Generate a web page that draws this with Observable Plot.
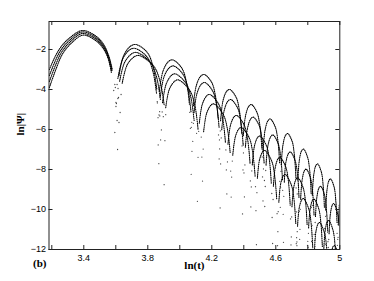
<!DOCTYPE html>
<html><head><meta charset="utf-8">
<script src="https://cdn.jsdelivr.net/npm/d3@7"></script>
<script src="https://cdn.jsdelivr.net/npm/@observablehq/plot@0.6"></script>
<style>
html,body{margin:0;padding:0;background:#fff;}
#chart{width:374px;height:281px;}
</style></head><body><div id="chart"></div>
<script>
// ln(t) tick positions and labels
const xTicks = [3.2, 3.4, 3.6, 3.8, 4.0, 4.2, 4.4, 4.6, 4.8, 5.0];
const xLabelTicks = [3.4, 3.8, 4.2, 4.6, 5];
const yTicks = [-2, -4, -6, -8, -10, -12];
const xLabel = "ln(t)";
const yLabel = "ln|Ψ|";
const panelTag = "(b)";

// arches, [ln t, ln|Ψ|], one list per lobe, four series A (top) .. D (bottom)
const archesA = [
  [[3.185,-3.0],[3.215,-2.45],[3.25,-1.95],[3.30,-1.5],[3.39,-1.05],[3.47,-1.3],[3.52,-1.7],[3.555,-2.3],[3.578,-3.0]],
  [[3.620,-3.31],[3.649,-2.31],[3.691,-1.84],[3.726,-1.75],[3.796,-2.14],[3.832,-2.83],[3.856,-3.97]],
  [[3.872,-4.08],[3.895,-3.08],[3.928,-2.61],[3.955,-2.52],[4.011,-2.91],[4.041,-3.60],[4.060,-4.74]],
  [[4.085,-4.81],[4.103,-3.81],[4.130,-3.34],[4.153,-3.25],[4.199,-3.64],[4.223,-4.33],[4.240,-5.47]],
  [[4.255,-5.56],[4.270,-4.56],[4.293,-4.09],[4.312,-4.0],[4.352,-4.39],[4.373,-5.08],[4.387,-6.22]],
  [[4.397,-6.31],[4.411,-5.31],[4.431,-4.84],[4.447,-4.75],[4.482,-5.14],[4.501,-5.83],[4.513,-6.97]],
  [[4.521,-7.03],[4.533,-6.03],[4.551,-5.56],[4.565,-5.47],[4.596,-5.86],[4.613,-6.55],[4.624,-7.69]],
  [[4.634,-7.76],[4.645,-6.76],[4.661,-6.29],[4.674,-6.2],[4.702,-6.59],[4.716,-7.28],[4.726,-8.42]],
  [[4.738,-8.54],[4.747,-7.54],[4.761,-7.07],[4.773,-6.98],[4.798,-7.37],[4.812,-8.06],[4.821,-9.20]],
  [[4.828,-9.28],[4.837,-8.28],[4.850,-7.81],[4.861,-7.72],[4.884,-8.11],[4.896,-8.80],[4.904,-9.94]],
  [[4.912,-10.03],[4.920,-9.03],[4.932,-8.56],[4.942,-8.47],[4.964,-8.86],[4.975,-9.55],[4.983,-10.69]],
  [[4.990,-10.76],[4.997,-9.76]]
];
const archesB = [
  [[3.185,-3.3],[3.22,-2.6],[3.255,-2.05],[3.305,-1.58],[3.39,-1.12],[3.47,-1.37],[3.52,-1.78],[3.555,-2.35],[3.576,-3.05]],
  [[3.613,-3.45],[3.643,-2.47],[3.686,-2.02],[3.718,-1.94],[3.794,-2.36],[3.831,-3.07],[3.855,-4.23]],
  [[3.879,-4.33],[3.902,-3.35],[3.936,-2.90],[3.961,-2.82],[4.020,-3.24],[4.050,-3.95],[4.070,-5.11]],
  [[4.089,-5.16],[4.108,-4.18],[4.135,-3.73],[4.156,-3.65],[4.205,-4.07],[4.230,-4.78],[4.246,-5.94]],
  [[4.262,-6.01],[4.278,-5.03],[4.301,-4.58],[4.319,-4.5],[4.361,-4.92],[4.382,-5.63],[4.396,-6.79]],
  [[4.410,-6.89],[4.424,-5.91],[4.444,-5.46],[4.459,-5.38],[4.496,-5.80],[4.514,-6.51],[4.527,-7.67]],
  [[4.539,-7.78],[4.551,-6.80],[4.569,-6.35],[4.582,-6.27],[4.614,-6.69],[4.631,-7.40],[4.642,-8.56]],
  [[4.653,-8.63],[4.663,-7.65],[4.679,-7.20],[4.691,-7.12],[4.720,-7.54],[4.736,-8.25],[4.745,-9.41]],
  [[4.755,-9.49],[4.765,-8.51],[4.779,-8.06],[4.790,-7.98],[4.816,-8.40],[4.830,-9.11],[4.839,-10.27]],
  [[4.848,-10.35],[4.857,-9.37],[4.870,-8.92],[4.880,-8.84],[4.904,-9.26],[4.916,-9.97],[4.925,-11.13]],
  [[4.933,-11.21],[4.941,-10.23],[4.953,-9.78],[4.962,-9.7],[4.984,-10.12],[4.996,-10.83]]
];
const archesC = [
  [[3.185,-3.6],[3.225,-2.75],[3.26,-2.15],[3.31,-1.66],[3.39,-1.2],[3.47,-1.45],[3.52,-1.85],[3.553,-2.4],[3.574,-3.1]],
  [[3.624,-3.59],[3.656,-2.63],[3.702,-2.20],[3.731,-2.15],[3.814,-2.62],[3.854,-3.35],[3.879,-4.53]],
  [[3.892,-4.66],[3.916,-3.70],[3.951,-3.27],[3.973,-3.22],[4.039,-3.69],[4.070,-4.42],[4.090,-5.60]],
  [[4.122,-5.69],[4.141,-4.73],[4.170,-4.30],[4.188,-4.25],[4.242,-4.72],[4.268,-5.45],[4.285,-6.63]],
  [[4.301,-6.74],[4.317,-5.78],[4.341,-5.35],[4.357,-5.3],[4.402,-5.77],[4.424,-6.50],[4.439,-7.68]],
  [[4.453,-7.77],[4.467,-6.81],[4.488,-6.38],[4.501,-6.33],[4.541,-6.80],[4.560,-7.53],[4.572,-8.71]],
  [[4.585,-8.84],[4.597,-7.88],[4.615,-7.45],[4.627,-7.4],[4.662,-7.87],[4.679,-8.60],[4.690,-9.78]],
  [[4.701,-9.86],[4.712,-8.90],[4.728,-8.47],[4.739,-8.42],[4.770,-8.89],[4.786,-9.62],[4.796,-10.80]],
  [[4.805,-10.92],[4.815,-9.96],[4.830,-9.53],[4.839,-9.48],[4.868,-9.95],[4.882,-10.68],[4.891,-11.86]],
  [[4.900,-11.99],[4.909,-11.03],[4.922,-10.60],[4.931,-10.55],[4.957,-11.02],[4.970,-11.75],[4.978,-12.93]]
];
const archesD = [
  [[3.185,-3.9],[3.23,-2.9],[3.265,-2.25],[3.315,-1.74],[3.395,-1.28],[3.47,-1.53],[3.52,-1.93],[3.552,-2.45],[3.572,-3.15]],
  [[3.640,-3.69],[3.673,-2.74],[3.720,-2.34],[3.746,-2.3],[3.836,-2.82],[3.876,-3.57],[3.902,-4.76]],
  [[3.912,-4.91],[3.936,-3.96],[3.972,-3.56],[3.992,-3.52],[4.062,-4.04],[4.094,-4.79],[4.114,-5.98]],
  [[4.149,-6.11],[4.169,-5.16],[4.198,-4.76],[4.214,-4.72],[4.271,-5.24],[4.298,-5.99],[4.315,-7.18]],
  [[4.331,-7.29],[4.348,-6.34],[4.372,-5.94],[4.386,-5.9],[4.434,-6.42],[4.456,-7.17],[4.471,-8.36]],
  [[4.485,-8.44],[4.499,-7.49],[4.520,-7.09],[4.532,-7.05],[4.574,-7.57],[4.593,-8.32],[4.606,-9.51]],
  [[4.619,-9.64],[4.631,-8.69],[4.649,-8.29],[4.660,-8.25],[4.697,-8.77],[4.714,-9.52],[4.725,-10.71]],
  [[4.736,-10.84],[4.747,-9.89],[4.764,-9.49],[4.773,-9.45],[4.806,-9.97],[4.821,-10.72],[4.831,-11.91]],
  [[4.842,-12.04],[4.851,-11.09],[4.866,-10.69],[4.874,-10.65],[4.904,-11.17],[4.918,-11.92],[4.928,-13.11]],
  [[4.937,-13.19],[4.946,-12.24],[4.959,-11.84],[4.967,-11.8],[4.994,-12.32]]
];

// scattered samples in the dips between lobes, [ln t, ln|Ψ|]
const dipsA = [[3.594,-3.75],[3.601,-4.85],[3.608,-5.55],[3.614,-3.95],
  [3.860,-4.67],[3.865,-6.77],[3.870,-5.27],[3.875,-4.37],
  [4.062,-5.14],[4.066,-5.94],[4.071,-8.24],[4.075,-5.64],
  [4.242,-6.27],[4.246,-7.47],[4.249,-6.97],[4.253,-6.07],
  [4.389,-6.82],[4.392,-10.22],[4.395,-8.02],[4.398,-6.72],
  [4.515,-7.37],[4.517,-8.37],[4.520,-9.57],[4.523,-7.97],
  [4.625,-8.59],[4.628,-9.89],[4.630,-8.89],[4.632,-8.09],
  [4.727,-8.92],[4.730,-10.12],[4.732,-11.62],[4.734,-9.22],
  [4.822,-9.90],[4.824,-11.60],[4.826,-10.80],[4.828,-9.80],
  [4.905,-10.94],[4.907,-11.24],[4.909,-11.74],[4.911,-10.34],
  [4.983,-11.19],[4.985,-11.79],[4.987,-11.49],[4.989,-11.39]];
const dipsB = [[3.587,-4.05],[3.594,-6.15],[3.601,-4.65],[3.608,-3.75],
  [3.859,-4.61],[3.864,-5.41],[3.869,-7.71],[3.874,-5.11],
  [4.072,-5.89],[4.076,-7.09],[4.081,-6.59],[4.085,-5.69],
  [4.248,-6.52],[4.252,-9.92],[4.255,-7.72],[4.259,-6.42],
  [4.398,-7.17],[4.401,-8.17],[4.404,-9.37],[4.407,-7.77],
  [4.529,-8.55],[4.531,-9.85],[4.534,-8.85],[4.537,-8.05],
  [4.643,-9.04],[4.646,-10.24],[4.648,-11.64],[4.650,-9.34],
  [4.747,-10.09],[4.749,-11.49],[4.751,-10.99],[4.753,-9.99],
  [4.840,-11.25],[4.842,-11.55],[4.844,-11.85],[4.846,-10.65],
  [4.926,-11.61],[4.928,-11.90],[4.931,-11.50]];
const dipsC = [[3.597,-3.90],[3.604,-4.70],[3.611,-7.00],[3.617,-4.40],
  [3.875,-5.32],[3.880,-6.52],[3.885,-6.02],[3.890,-5.12],
  [4.105,-6.19],[4.110,-9.59],[4.114,-7.39],[4.118,-6.09],
  [4.288,-7.02],[4.291,-8.02],[4.294,-9.22],[4.298,-7.62],
  [4.441,-8.57],[4.444,-9.87],[4.447,-8.87],[4.450,-8.07],
  [4.575,-9.20],[4.577,-10.40],[4.580,-11.70],[4.583,-9.50],
  [4.692,-10.47],[4.695,-11.77],[4.697,-11.37],[4.699,-10.37],
  [4.798,-11.79],[4.800,-11.59],[4.802,-11.89],[4.804,-11.19]];
const dipsD = [[3.613,-4.45],[3.620,-5.65],[3.627,-5.15],[3.633,-4.25],
  [3.897,-5.36],[3.902,-8.76],[3.907,-6.56],[3.912,-5.26],
  [4.134,-6.38],[4.138,-7.38],[4.142,-8.58],[4.146,-6.98],
  [4.318,-8.08],[4.321,-9.38],[4.324,-8.38],[4.328,-7.58],
  [4.473,-8.86],[4.476,-10.06],[4.479,-11.76],[4.482,-9.16],
  [4.608,-10.21],[4.611,-11.81],[4.613,-11.11],[4.615,-10.11],
  [4.728,-11.71],[4.730,-11.41],[4.732,-11.81],[4.734,-11.11]];

// tables for the library
const series = {A: archesA, B: archesB, C: archesC, D: archesD};
const archRows = [];
for (const [name, arches] of Object.entries(series)) {
  arches.forEach((arch, i) => arch.forEach(([lnT, lnPsi]) => archRows.push({series: name, arch: name + i, lnT, lnPsi})));
}
const dipRows = [...dipsA, ...dipsB, ...dipsC, ...dipsD].map(([lnT, lnPsi]) => ({lnT, lnPsi}));

const W = 374, H = 281, mL = 48.5, mR = 34.7, mT = 21, mB = 32;
const fw = W - mL - mR, fh = H - mT - mB, tick = 4;
const serif = "'Liberation Serif', 'Times New Roman', serif";

const chart = Plot.plot({
  width: W, height: H,
  marginLeft: mL, marginRight: mR, marginTop: mT, marginBottom: mB,
  x: {domain: [3.1825, 5]},
  y: {domain: [-12, -0.6]},
  style: {fontFamily: "'Liberation Sans', Arial, sans-serif", fontSize: "9px", color: "#000", background: "#fff"},
  marks: [
    Plot.line(archRows, {x: "lnT", y: "lnPsi", z: "arch", curve: "catmull-rom", stroke: "#000", strokeWidth: 1.1, strokeDasharray: "0.7,1.2", clip: true}),
    Plot.dot(dipRows, {x: "lnT", y: "lnPsi", r: 0.65, fill: "#444", stroke: "none", clip: true}),
    Plot.frame({stroke: "#222", strokeWidth: 1}),
    Plot.ruleX(xTicks, {insetTop: fh - tick, stroke: "#222"}),
    Plot.ruleX(xTicks, {insetBottom: fh - tick, stroke: "#222"}),
    Plot.ruleY(yTicks, {insetRight: fw - tick, stroke: "#222"}),
    Plot.ruleY(yTicks, {insetLeft: fw - tick, stroke: "#222"}),
    Plot.axisX(xLabelTicks, {tickSize: 0, tickPadding: 5, tickFormat: d => String(d), label: null}),
    Plot.axisY(yTicks, {tickSize: 0, tickPadding: 3, tickFormat: d => "\u2212" + Math.abs(d), label: null}),
    Plot.text([xLabel], {frameAnchor: "bottom", dy: 19, fontFamily: serif, fontWeight: "bold", fontSize: 11}),
    Plot.text([yLabel], {frameAnchor: "left", dx: -28.5, rotate: -90, fontFamily: serif, fontWeight: "bold", fontSize: 11}),
    Plot.text([panelTag], {frameAnchor: "bottom-left", dx: -16, dy: 17.7, fontFamily: serif, fontWeight: "bold", fontSize: 11})
  ]
});
document.getElementById("chart").appendChild(chart);
</script>
</body></html>
